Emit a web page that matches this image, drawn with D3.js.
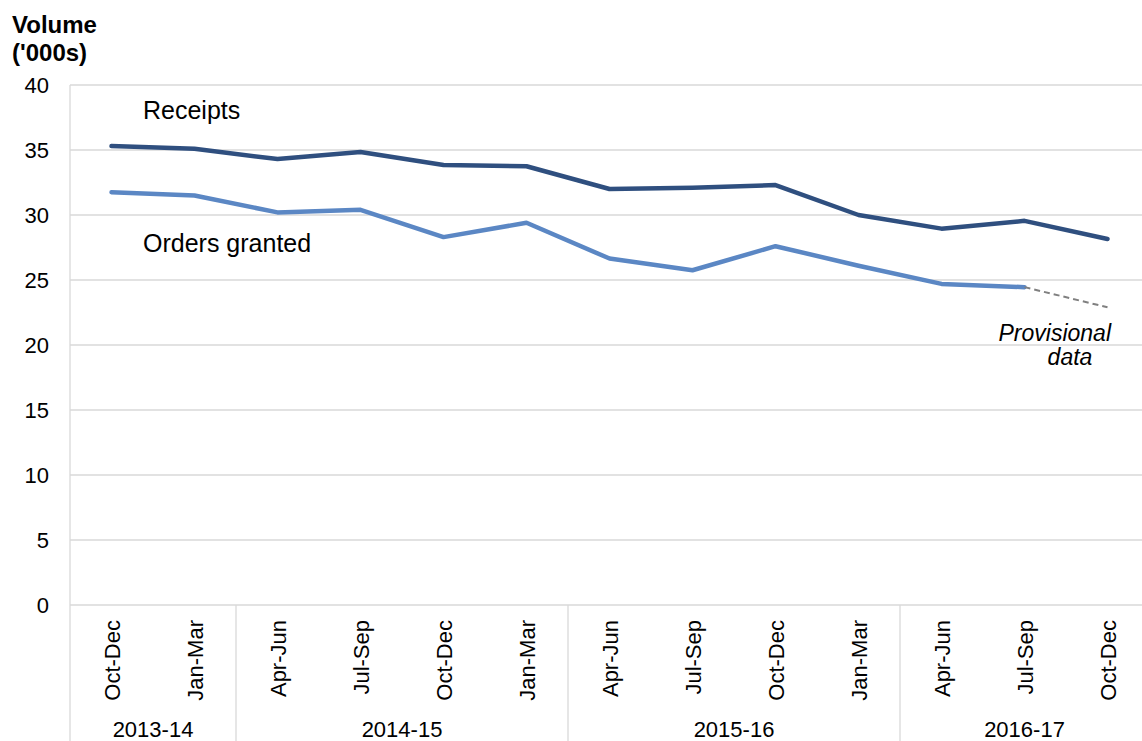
<!DOCTYPE html>
<html>
<head>
<meta charset="utf-8">
<script src="https://cdn.jsdelivr.net/npm/d3@7"></script>
<style>
  html, body { margin: 0; padding: 0; background: #fff; }
  svg { display: block; font-family: "Liberation Sans", Arial, sans-serif; }
</style>
</head>
<body>
<svg id="chart" width="1142" height="741"></svg>
<script>
// Quarterly volumes ('000s), Oct-Dec 2013 to Oct-Dec 2016
const quarters = ["Oct-Dec", "Jan-Mar", "Apr-Jun", "Jul-Sep", "Oct-Dec", "Jan-Mar",
                  "Apr-Jun", "Jul-Sep", "Oct-Dec", "Jan-Mar", "Apr-Jun", "Jul-Sep", "Oct-Dec"];
const years = ["2013-14", "2014-15", "2015-16", "2016-17"];
const quartersPerYear = [2, 4, 4, 3];
const receipts = [35.3, 35.1, 34.3, 34.85, 33.85, 33.75, 32.0, 32.1, 32.3, 30.0, 28.95, 29.55, 28.15];
const ordersGranted = [31.75, 31.5, 30.2, 30.4, 28.3, 29.4, 26.65, 25.75, 27.6, 26.1, 24.7, 24.45];
// Latest quarter of orders is provisional
const ordersProvisional = 22.9;
const yTicks = [0, 5, 10, 15, 20, 25, 30, 35, 40];

const svg = d3.select("#chart");
const plotLeft = 70, plotTop = 85, plotBottom = 605, step = 83;
const n = quarters.length;

const x = d3.scaleBand().domain(d3.range(n)).range([plotLeft, plotLeft + step * n]).padding(0);
const cx = i => x(i) + x.bandwidth() / 2;
const y = d3.scaleLinear().domain([0, 40]).range([plotBottom, plotTop]);

// Horizontal gridlines
svg.append("g").selectAll("line").data(yTicks).join("line")
  .attr("x1", plotLeft).attr("x2", plotLeft + step * n)
  .attr("y1", d => y(d)).attr("y2", d => y(d))
  .attr("stroke", "#d9d9d9").attr("stroke-width", 1.3);

// Y tick labels
svg.append("g").selectAll("text").data(yTicks).join("text")
  .attr("x", 49).attr("y", d => y(d)).attr("dy", "0.36em")
  .attr("text-anchor", "end").attr("font-size", 22).attr("fill", "#000")
  .text(d => d);

// Axis title
svg.append("text").attr("x", 12).attr("y", 33)
  .attr("font-size", 24).attr("font-weight", "bold").text("Volume");
svg.append("text").attr("x", 12).attr("y", 61)
  .attr("font-size", 24).attr("font-weight", "bold").text("('000s)");

// Left axis line, extending through the category label area
svg.append("line").attr("x1", plotLeft).attr("x2", plotLeft).attr("y1", plotTop).attr("y2", 741)
  .attr("stroke", "#d9d9d9").attr("stroke-width", 1.3);

// Financial year group separators and labels
let start = 0;
const groups = quartersPerYear.map((c, k) => {
  const g = { name: years[k], start, end: start + c };
  start += c;
  return g;
});
svg.append("g").selectAll("line").data(groups.slice(0, -1)).join("line")
  .attr("x1", d => x(d.end)).attr("x2", d => x(d.end))
  .attr("y1", plotBottom).attr("y2", 741)
  .attr("stroke", "#d9d9d9").attr("stroke-width", 1.3);
svg.append("g").selectAll("text").data(groups).join("text")
  .attr("x", d => (x(d.start) + x(d.end - 1) + x.bandwidth()) / 2)
  .attr("y", 729).attr("dy", "0.36em")
  .attr("text-anchor", "middle").attr("font-size", 22)
  .text(d => d.name);

// Rotated quarter labels
svg.append("g").selectAll("text").data(quarters).join("text")
  .attr("transform", (d, i) => `translate(${cx(i) + 8},620) rotate(-90)`)
  .attr("text-anchor", "end").attr("font-size", 22)
  .text(d => d);

// Series lines
const line = d3.line().x((d, i) => cx(i)).y(d => y(d));
svg.append("path").datum(receipts)
  .attr("d", line).attr("fill", "none")
  .attr("stroke", "#2f4f7f").attr("stroke-width", 4.5)
  .attr("stroke-linejoin", "round").attr("stroke-linecap", "round");
svg.append("path").datum(ordersGranted)
  .attr("d", line).attr("fill", "none")
  .attr("stroke", "#5b87c4").attr("stroke-width", 4.5)
  .attr("stroke-linejoin", "round").attr("stroke-linecap", "round");

// Provisional segment
const lastIdx = ordersGranted.length - 1;
svg.append("line")
  .attr("x1", cx(lastIdx)).attr("y1", y(ordersGranted[lastIdx]))
  .attr("x2", cx(lastIdx + 1)).attr("y2", y(ordersProvisional))
  .attr("stroke", "#808080").attr("stroke-width", 2)
  .attr("stroke-dasharray", "6,4");

// Series labels
svg.append("text").attr("x", 143).attr("y", 110).attr("dy", "0.36em")
  .attr("font-size", 25).text("Receipts");
svg.append("text").attr("x", 143).attr("y", 243).attr("dy", "0.36em")
  .attr("font-size", 25).text("Orders granted");

// Provisional note
svg.append("text").attr("x", 1111).attr("y", 333).attr("dy", "0.36em")
  .attr("text-anchor", "end").attr("font-size", 23).attr("font-style", "italic")
  .text("Provisional");
svg.append("text").attr("x", 1070).attr("y", 357).attr("dy", "0.36em")
  .attr("text-anchor", "middle").attr("font-size", 23).attr("font-style", "italic")
  .text("data");
</script>
</body>
</html>
